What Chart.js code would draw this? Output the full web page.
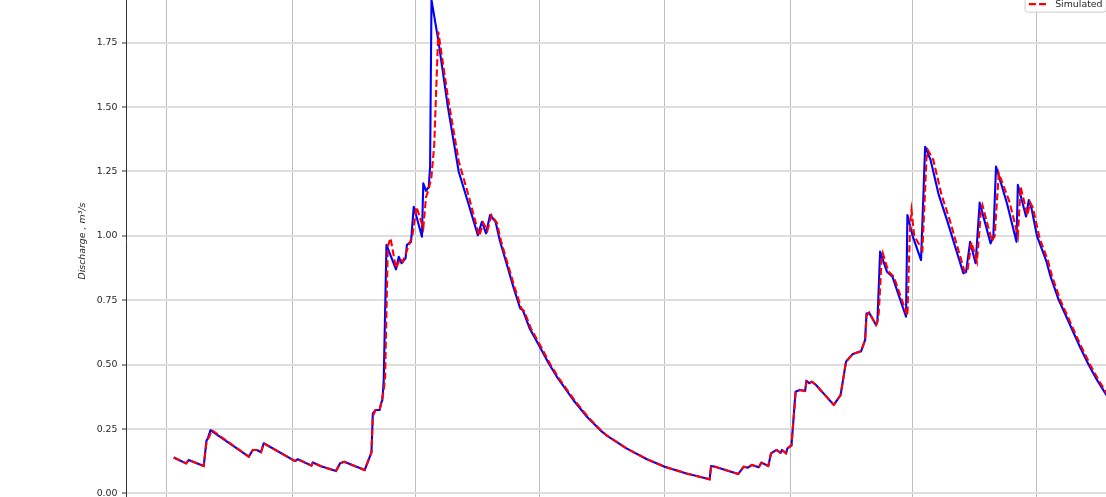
<!DOCTYPE html>
<html>
<head>
<meta charset="utf-8">
<script src="https://cdn.jsdelivr.net/npm/chart.js@4.4.1/dist/chart.umd.min.js"></script>
<style>
  html, body { margin: 0; padding: 0; background: #ffffff; width: 1106px; height: 497px; overflow: hidden; }
  #wrap { position: relative; width: 1106px; height: 497px; overflow: hidden; }
  #c { position: absolute; left: 0; top: -40px; }
</style>
</head>
<body>
<div id="wrap"><canvas id="c" width="1120" height="560"></canvas></div>
<script>
// Daily discharge, days counted from 1 October of the first hydrological year
const obsDays = [
  5, 14, 16, 27, 29, 30, 32, 34,
  60, 63, 66, 69, 71,
  94, 96, 106, 107, 113, 124, 127, 130, 145,
  150, 151, 153, 156, 157, 158, 159, 161,
  168, 170, 172, 175, 176, 179, 181, 183, 187, 188, 190, 192, 193, 194,
  199, 206, 214, 221, 228, 231, 234, 237, 241, 244, 249, 254, 259, 261, 266, 274, 280, 286, 292, 298, 308, 319, 322, 337, 352, 365, 381, 398,
  399, 402, 419, 423, 426, 429, 434, 436, 441, 443, 447, 450, 451, 454, 455, 458,
  461, 464, 468, 469, 471, 473, 476, 489, 494, 496, 498, 503, 509, 512, 513, 515, 520, 521, 523, 528, 532, 542, 543, 547, 553, 556, 560, 566, 572,
  584, 586, 589, 593, 596, 604, 606, 608, 616, 623, 624, 630, 632, 634, 638, 645, 648, 654, 659, 665, 670, 676, 682, 689, 692
];
const obsQ = [
  0.140, 0.117, 0.130, 0.107, 0.205, 0.214, 0.246, 0.238,
  0.143, 0.169, 0.169, 0.160, 0.195,
  0.126, 0.133, 0.108, 0.120, 0.106, 0.087, 0.117, 0.123, 0.091,
  0.160, 0.311, 0.324, 0.324, 0.350, 0.363, 0.441, 0.965,
  0.870, 0.919, 0.894, 0.913, 0.965, 0.977, 1.113, 1.075, 0.997, 1.204, 1.175, 1.190, 1.269, 1.916,
  1.760, 1.502, 1.249, 1.127, 1.003, 1.055, 1.010, 1.081, 1.055, 0.984, 0.894, 0.803, 0.719, 0.712, 0.641, 0.564, 0.505, 0.453, 0.408, 0.363, 0.298, 0.240, 0.227, 0.175, 0.133, 0.104, 0.078, 0.055,
  0.107, 0.104, 0.076, 0.104, 0.100, 0.111, 0.102, 0.120, 0.107, 0.156, 0.169, 0.158, 0.169, 0.156, 0.175, 0.187,
  0.395, 0.402, 0.398, 0.438, 0.428, 0.434, 0.421, 0.344, 0.382, 0.447, 0.512, 0.542, 0.552, 0.596, 0.699, 0.702, 0.654, 0.667, 0.939, 0.861, 0.842, 0.686, 1.081, 0.997, 0.906, 1.346, 1.295, 1.159, 1.062,
  0.855, 0.860, 0.977, 0.894, 1.129, 0.971, 0.997, 1.269, 1.127, 0.977, 1.198, 1.075, 1.139, 1.107, 1.000, 0.900, 0.842, 0.751, 0.693, 0.622, 0.564, 0.499, 0.441, 0.382, 0.365
];

const simDays = [
  5, 14, 16, 27, 29, 31, 33, 35,
  60, 63, 66, 69, 71,
  94, 96, 106, 107, 113, 124, 127, 130, 145,
  150, 151, 153, 156, 157, 159, 160, 162,
  164, 168, 171, 173, 177, 180, 183, 188, 190, 192, 194, 196, 199,
  206, 214, 221, 229, 232, 235, 238, 242, 245, 250, 255, 260, 262, 267, 275, 281, 287, 293, 299, 309, 319, 322, 337, 352, 365, 381, 398,
  399, 400, 402, 419, 423, 426, 429, 434, 436, 441, 443, 447, 450, 451, 454, 455, 458,
  461, 464, 468, 469, 471, 473, 476, 489, 494, 496, 498, 503, 509, 512, 513, 515, 520, 521, 522, 524, 525, 529, 533, 543, 545, 546, 548, 554, 557, 558, 562, 568, 574,
  585, 587, 590, 594, 597, 598, 605, 607, 610, 618, 624, 626, 631, 633, 635, 640, 646, 649, 655, 660, 666, 671, 677, 683, 690, 692
];
const simQ = [
  0.140, 0.117, 0.130, 0.107, 0.200, 0.220, 0.246, 0.238,
  0.143, 0.169, 0.169, 0.160, 0.195,
  0.126, 0.133, 0.108, 0.120, 0.106, 0.087, 0.117, 0.123, 0.091,
  0.160, 0.300, 0.324, 0.326, 0.345, 0.400, 0.450, 0.960,
  0.991, 0.874, 0.910, 0.900, 0.958, 1.000, 1.113, 1.030, 1.150, 1.181, 1.230, 1.350, 1.793,
  1.540, 1.290, 1.160, 1.000, 1.050, 1.020, 1.080, 1.050, 0.980, 0.890, 0.800, 0.718, 0.708, 0.640, 0.563, 0.503, 0.451, 0.406, 0.361, 0.296, 0.241, 0.228, 0.175, 0.133, 0.104, 0.078, 0.055,
  0.100, 0.108, 0.104, 0.076, 0.104, 0.100, 0.111, 0.102, 0.120, 0.107, 0.156, 0.169, 0.158, 0.169, 0.156, 0.175, 0.187,
  0.390, 0.402, 0.398, 0.435, 0.428, 0.434, 0.421, 0.344, 0.382, 0.447, 0.512, 0.542, 0.552, 0.596, 0.690, 0.702, 0.654, 0.667, 0.700, 0.900, 0.932, 0.862, 0.842, 0.690, 1.050, 1.100, 1.000, 0.945, 1.300, 1.333, 1.295, 1.160, 1.062,
  0.860, 0.865, 0.975, 0.900, 1.100, 1.120, 0.980, 1.000, 1.243, 1.130, 1.000, 1.191, 1.080, 1.130, 1.110, 0.990, 0.905, 0.845, 0.752, 0.694, 0.622, 0.565, 0.500, 0.442, 0.381, 0.372
];

// Quarter starts (1 Oct, 1 Jan, 1 Apr, 1 Jul, ...) used for the vertical grid
const xGridDays = [0, 92, 182, 273, 365, 457, 547, 638];
const yTicks = [0, 0.25, 0.5, 0.75, 1.0, 1.25, 1.5, 1.75, 2.0];
const yTitle = 'Discharge , m\u00b3/s';

const FONT = 'DejaVu Sans';
const FS = 9.4;

const toPoints = (days, q) => days.map((d, i) => ({ x: d, y: q[i] }));

// Matplotlib-style legend box in the upper-right corner of the plot area
const legendBox = {
  id: 'legendBox',
  afterDraw(chart) {
    const ctx = chart.ctx;
    const a = chart.chartArea;
    const sets = chart.data.datasets;
    const pad = 0.4 * FS, gap = 0.5 * FS, hl = 2 * FS, tp = 0.8 * FS, axp = 0.5 * FS, rowH = 0.9 * FS;
    ctx.save();
    ctx.font = FS + 'px "' + FONT + '"';
    const tw = Math.max(...sets.map(d => ctx.measureText(d.label).width));
    const w = pad + hl + tp + tw + pad;
    const h = 2 * pad + sets.length * rowH + (sets.length - 1) * gap;
    const x0 = a.right - axp - w, y0 = a.top + axp;
    ctx.beginPath();
    ctx.roundRect(x0, y0, w, h, 2.5);
    ctx.fillStyle = 'rgba(255,255,255,0.8)';
    ctx.fill();
    ctx.strokeStyle = '#cccccc';
    ctx.lineWidth = 1;
    ctx.stroke();
    sets.forEach((d, i) => {
      const cy = y0 + pad + rowH / 2 + i * (rowH + gap);
      ctx.beginPath();
      ctx.setLineDash(d.borderDash || []);
      ctx.strokeStyle = d.borderColor;
      ctx.lineWidth = d.borderWidth;
      ctx.moveTo(x0 + pad, cy);
      ctx.lineTo(x0 + pad + hl, cy);
      ctx.stroke();
      ctx.setLineDash([]);
      ctx.fillStyle = '#262626';
      ctx.textBaseline = 'middle';
      ctx.textAlign = 'left';
      ctx.fillText(d.label, x0 + pad + hl + tp, cy + 0.5);
    });
    ctx.restore();
  }
};

new Chart(document.getElementById('c'), {
  type: 'line',
  data: {
    datasets: [
      {
        label: 'Observed',
        data: toPoints(obsDays, obsQ),
        borderColor: '#0000ff',
        borderWidth: 2.1,
        pointRadius: 0,
        tension: 0,
        fill: false,
        borderJoinStyle: 'round',
        order: 1
      },
      {
        label: 'Simulated',
        data: toPoints(simDays, simQ),
        borderColor: '#ff0000',
        borderWidth: 2.1,
        borderDash: [7, 3.2],
        pointRadius: 0,
        tension: 0,
        fill: false,
        order: 0
      }
    ]
  },
  options: {
    responsive: false,
    animation: false,
    layout: { padding: { left: 0, right: 9, top: 18.3, bottom: 16.2 } },
    plugins: { legend: { display: false }, tooltip: { enabled: false } },
    scales: {
      x: {
        type: 'linear',
        min: -30,
        max: 692.3,
        afterBuildTicks: s => { s.ticks = xGridDays.map(v => ({ value: v })); },
        afterFit: s => { s.height = 0; },
        ticks: { display: false },
        grid: { color: '#bdbdbd', lineWidth: 1, drawTicks: false },
        border: { display: false }
      },
      y: {
        type: 'linear',
        min: -0.04,
        max: 2.0,
        afterBuildTicks: s => { s.ticks = yTicks.map(v => ({ value: v })); },
        afterFit: s => { s.width = 126; },
        ticks: {
          callback: v => Number(v).toFixed(2),
          font: { family: FONT, size: FS },
          color: '#262626',
          padding: 4.5
        },
        grid: { color: '#dedede', lineWidth: 2, tickLength: 4, tickColor: '#333333', tickWidth: 1 },
        border: { color: '#333333', width: 1 },
        title: {
          display: true,
          text: yTitle,
          font: { family: FONT, size: FS, style: 'italic' },
          color: '#262626',
          padding: { top: 77.4, bottom: 0 }
        }
      }
    }
  },
  plugins: [legendBox]
});
</script>
</body>
</html>
